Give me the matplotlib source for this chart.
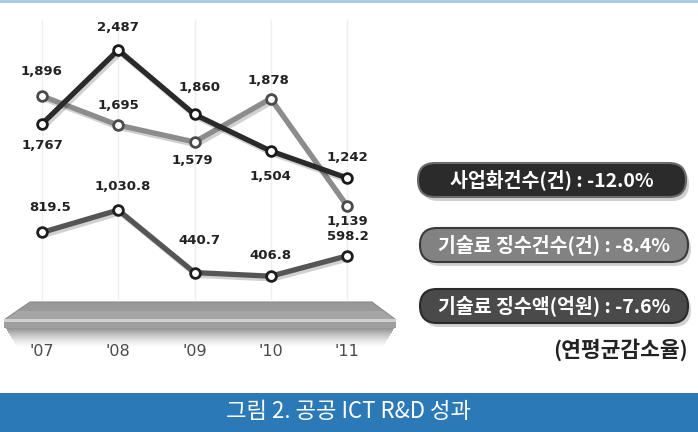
"""공공 ICT R&D 성과 — three-line chart with pill legend."""

import matplotlib

matplotlib.use("Agg")
import matplotlib.patheffects as pe
import matplotlib.pyplot as plt
from matplotlib.patches import FancyBboxPatch, Polygon, Rectangle

plt.rcParams["font.family"] = ["Noto Sans CJK KR", "DejaVu Sans"]

# Data
years = ["'07", "'08", "'09", "'10", "'11"]
commercial = [1767, 2487, 1860, 1504, 1242]  # 사업화건수(건)
fee_count = [1896, 1695, 1579, 1878, 1139]  # 기술료 징수건수(건)
fee_amount = [819.5, 1030.8, 440.7, 406.8, 598.2]  # 기술료 징수액(억원)
commercial_lbl = ["1,767", "2,487", "1,860", "1,504", "1,242"]
fee_count_lbl = ["1,896", "1,695", "1,579", "1,878", "1,139"]
fee_amount_lbl = ["819.5", "1,030.8", "440.7", "406.8", "598.2"]
legend_texts = [
    "사업화건수(건) : -12.0%",
    "기술료 징수건수(건) : -8.4%",
    "기술료 징수액(억원) : -7.6%",
]
legend_note = "(연평균감소율)"
caption = "그림 2. 공공 ICT R&D 성과"

W, H = 698, 432
fig = plt.figure(figsize=(W / 100, H / 100), dpi=100)
fig.patch.set_facecolor("white")

# Background overlay in pixel coordinates for decorations
bg = fig.add_axes([0, 0, 1, 1], zorder=0)
bg.set_xlim(0, W)
bg.set_ylim(H, 0)
bg.axis("off")

# top blue rule and bottom caption band
bg.add_patch(Rectangle((0, 0), W, 3, color="#a9c9e4", lw=0))
bg.add_patch(Rectangle((0, 393), W, 39, color="#2b79b6", lw=0))
bg.text(W / 2, 411, caption, color="white", fontsize=16, ha="center",
        va="center", fontweight="light")

# platform shadow: stacked 1px strips fading downwards
n_strips = 20
for i in range(n_strips):
    a = 0.42 * (1 - i / n_strips) ** 1.5
    inset = 6 + i * 0.6
    bg.add_patch(Rectangle((inset, 328 + i), 392 - 2 * inset + 8, 1.05,
                           color="#000000", alpha=a, lw=0, zorder=1))

# platform top face (two tones for a simple gradient) and front edge
bg.add_patch(Polygon([(30, 302), (372, 302), (384, 311), (17, 311)],
                     closed=True, facecolor="#999999", lw=0, zorder=3))
bg.add_patch(Polygon([(17, 311), (384, 311), (396, 320), (4, 320)],
                     closed=True, facecolor="#a6a6a6", lw=0, zorder=3))
bg.add_patch(Polygon([(30, 302), (372, 302), (396, 320), (4, 320)],
                     closed=True, facecolor="none", edgecolor="#8a8a8a",
                     lw=0.8, zorder=3))
bg.add_patch(Rectangle((4, 319), 392, 3, color="#d0d0d0", lw=0, zorder=3))
bg.add_patch(Rectangle((4, 322), 392, 6, color="#9e9e9e", lw=0, zorder=3))

# legend pills
pill_specs = [
    (418, 163, "#2b2b2b", "#6a6a6a"),
    (420, 228, "#828282", "#3a3a3a"),
    (420, 289, "#4a4a4a", "#2a2a2a"),
]
for (px, py, fc, ec), txt in zip(pill_specs, legend_texts):
    bg.add_patch(FancyBboxPatch((px + 3, py + 4), 268, 34,
                                boxstyle="round,pad=0,rounding_size=17",
                                facecolor="#000000", alpha=0.18, lw=0))
    bg.add_patch(FancyBboxPatch((px, py), 268, 34,
                                boxstyle="round,pad=0,rounding_size=17",
                                facecolor=fc, edgecolor=ec, lw=1.5))
    bg.text(px + 134, py + 17, txt, color="white", fontsize=14,
            fontweight="bold", ha="center", va="center")
bg.text(688, 350, legend_note, color="#222222", fontsize=15.5,
        fontweight="bold", ha="right", va="center")

# Data axes: three independent scales stacked on the same x positions
rect = [0, (H - 300) / H, 400 / W, 300 / H]
xlim = (-42 / 76.25, (400 - 42) / 76.25)
x = list(range(len(years)))

series = [
    (commercial, commercial_lbl, (55, 2973), "#2a2a2a", "#1a1a1a",
     [-22, 22, 27, -25, 20], [0, 0, 5, 0, 0]),
    (fee_count, fee_count_lbl, (489, 2558), "#8c8c8c", "#4a4a4a",
     [24, 20, -19, 18, -16], [0, 0, -2, -2, 0]),
    (fee_amount, fee_amount_lbl, (182, 3012), "#555555", "#1e1e1e",
     [25, 24, 32, 21, 19], [8, 5, 5, 0, 1]),
]

shadow = [pe.SimpleLineShadow(offset=(1.5, -2), shadow_color="#000000",
                              alpha=0.18), pe.Normal()]
for i, (vals, lbls, ylim, lc, mec, dy, dx) in enumerate(series):
    ax = fig.add_axes(rect, zorder=3 - i)
    ax.patch.set_alpha(0)
    ax.set_xlim(*xlim)
    ax.set_ylim(*ylim)
    ax.axis("off")
    ax.plot(x, vals, color=lc, lw=3.8, solid_capstyle="round", zorder=2,
            path_effects=shadow)
    ax.plot(x, vals, ls="none", marker="o", markersize=7,
            markerfacecolor="white", markeredgecolor=mec,
            markeredgewidth=2, zorder=3)
    for xi, v, lab, oy, ox in zip(x, vals, lbls, dy, dx):
        ax.annotate(lab, (xi, v), xytext=(ox, oy), textcoords="offset pixels",
                    ha="center", va="center", fontsize=9.5,
                    fontweight="bold", color="#222222", family="DejaVu Sans")

# faint vertical guides and year labels
gx = fig.add_axes(rect, zorder=0.5)
gx.patch.set_alpha(0)
gx.set_xlim(*xlim)
gx.set_ylim(300, 0)
gx.axis("off")
gx.vlines(x, 20, 300, color="#eeeeee", lw=1)
for xi, yr in zip(x, years):
    bg.text(42 + xi * 76.25, 352, yr, color="#4a4a4a", fontsize=11.5,
            ha="center", va="center", family="Liberation Sans Narrow")

fig.savefig("out.png", dpi=100)
